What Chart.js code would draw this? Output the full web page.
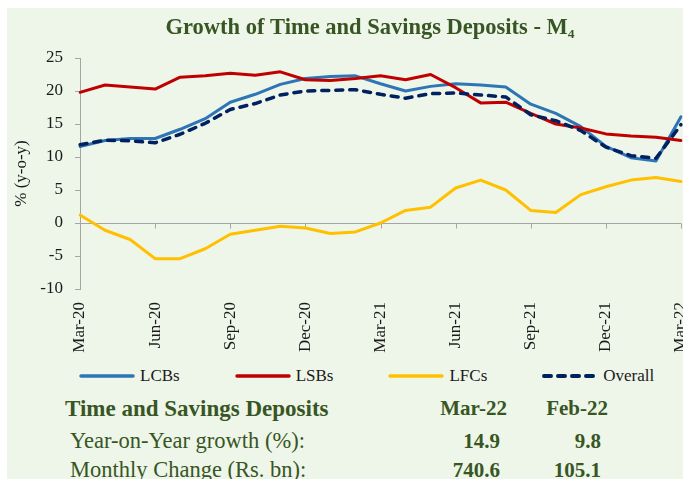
<!DOCTYPE html>
<html>
<head>
<meta charset="utf-8">
<script src="https://cdn.jsdelivr.net/npm/chart.js@4.4.1/dist/chart.umd.min.js"></script>
<style>
    html, body { margin: 0; padding: 0; background: #fff; }
    body { width: 683px; height: 479px; overflow: hidden; position: relative; font-family: 'Liberation Serif', serif; }
    #panel { position: absolute; left: 7px; top: 8px; width: 676px; height: 471px; background: #EEF5E9; overflow: hidden; }
    #chart-wrap { position: absolute; left: 0; top: 0; width: 726px; height: 356px; }
    #legend { position: absolute; left: 72px; top: 357px; height: 22px; display: flex; align-items: center; gap: 55px;
              font-size: 17px; color: #1a1a1a; }
    #legend .item { display: flex; align-items: center; }
    #legend svg { margin-right: 5px; }
    .t { position: absolute; white-space: nowrap; color: #375623; line-height: 1; }
    .b { font-weight: bold; }
    .r { text-align: right; }
</style>
</head>
<body>
<div id="panel">
    <div id="chart-wrap"><canvas id="depositsChart" width="726" height="356"></canvas></div>
    <div id="legend"></div>
    <div id="summary"></div>
</div>
<script>
const months = ['Mar-20', 'Apr-20', 'May-20', 'Jun-20', 'Jul-20', 'Aug-20', 'Sep-20', 'Oct-20', 'Nov-20',
    'Dec-20', 'Jan-21', 'Feb-21', 'Mar-21', 'Apr-21', 'May-21', 'Jun-21', 'Jul-21', 'Aug-21', 'Sep-21',
    'Oct-21', 'Nov-21', 'Dec-21', 'Jan-22', 'Feb-22', 'Mar-22'];

const lcbs = [11.6, 12.5, 12.8, 12.8, 14.2, 15.8, 18.3, 19.5, 21.0, 21.9, 22.2, 22.3, 21.1,
    20.0, 20.7, 21.1, 20.9, 20.6, 18.0, 16.6, 14.6, 11.6, 9.9, 9.4, 16.1];
const lsbs = [19.8, 20.9, 20.6, 20.3, 22.1, 22.3, 22.7, 22.4, 22.9, 21.7, 21.6, 21.9, 22.3,
    21.7, 22.5, 20.5, 18.2, 18.3, 16.6, 15.0, 14.4, 13.5, 13.2, 13.0, 12.5];
const lfcs = [1.2, -1.1, -2.5, -5.4, -5.4, -3.9, -1.7, -1.1, -0.5, -0.75, -1.6, -1.35, 0.0,
    1.9, 2.4, 5.3, 6.5, 5.0, 1.9, 1.6, 4.3, 5.5, 6.5, 6.9, 6.3];
const overall = [11.85, 12.55, 12.45, 12.15, 13.45, 15.1, 17.2, 18.1, 19.4, 20.0, 20.1, 20.2, 19.5,
    18.9, 19.6, 19.7, 19.4, 19.1, 16.4, 15.5, 14.0, 11.5, 10.2, 9.8, 14.9];

const yMin = -10, yMax = 25, yStep = 5;

const summaryTitle = 'Time and Savings Deposits';
const summaryCols = ['Mar-22', 'Feb-22'];
const yoyGrowth = ['14.9', '9.8'];
const monthlyChange = ['740.6', '105.1'];

const AXIS_GREY = '#A5A5A5';
const SERIF = "'Liberation Serif', 'DejaVu Serif', serif";

// small tick marks hanging below the zero line, every quarter
const zeroTicks = {
    id: 'zeroTicks',
    beforeDatasetsDraw(chart) {
        const { ctx, scales: { x, y } } = chart;
        const y0 = Math.round(y.getPixelForValue(0)) + 0.5;
        ctx.save();
        ctx.strokeStyle = AXIS_GREY;
        ctx.lineWidth = 1;
        months.forEach((m, i) => {
            if (i % 3 !== 0) return;
            const px = Math.round(x.getPixelForValue(i)) + 0.5;
            ctx.beginPath();
            ctx.moveTo(px, y0);
            ctx.lineTo(px, y0 + 5);
            ctx.stroke();
        });
        ctx.restore();
    }
};

// html legend built from the chart's own legend items
const htmlLegend = {
    id: 'htmlLegend',
    afterUpdate(chart) {
        const box = document.getElementById('legend');
        box.innerHTML = '';
        const items = chart.options.plugins.legend.labels.generateLabels(chart)
            .sort((a, b) => a.datasetIndex - b.datasetIndex);
        items.forEach(item => {
            const el = document.createElement('div');
            el.className = 'item';
            const dash = item.lineDash && item.lineDash.length ? item.lineDash.join(' ') : 'none';
            el.innerHTML = `<svg width="56" height="8"><line x1="2" y1="4" x2="54" y2="4" stroke="${item.strokeStyle}"
                stroke-width="${item.lineWidth + 0.5}" stroke-linecap="round" stroke-dasharray="${dash}"/></svg>`;
            const txt = document.createElement('span');
            txt.textContent = item.text;
            el.appendChild(txt);
            box.appendChild(el);
        });
    }
};

function series(label, data, color, order, extra = {}) {
    return {
        label, data, order,
        borderColor: color, backgroundColor: color,
        borderWidth: 3, pointRadius: 0, tension: 0,
        borderCapStyle: 'round', borderJoinStyle: 'round',
        ...extra
    };
}

new Chart(document.getElementById('depositsChart'), {
    type: 'line',
    data: {
        labels: months,
        datasets: [
            series('LCBs', lcbs, '#2E75B6', 3),
            series('LSBs', lsbs, '#C00000', 2),
            series('LFCs', lfcs, '#FFC000', 1),
            series('Overall', overall, '#002060', 0, { borderWidth: 3.5, borderDash: [7, 7] })
        ]
    },
    options: {
        responsive: false, animation: false, devicePixelRatio: 1,
        plugins: {
            tooltip: { enabled: false },
            legend: { display: false },
            title: {
                display: true,
                text: 'Growth of Time and Savings Deposits - M\u2084',
                color: '#375623',
                font: { family: SERIF, size: 22.5, weight: 'bold' },
                padding: { top: 7, bottom: 16 }
            }
        },
        scales: {
            x: {
                grid: { display: false, drawTicks: false },
                border: { display: false },
                // plot ends at the page edge, the original chart runs on past it
                afterFit: (scale) => { scale.height = 75; scale.paddingRight = 52; },
                ticks: {
                    autoSkip: false, minRotation: 90, maxRotation: 90, padding: 13,
                    color: '#1a1a1a', font: { family: SERIF, size: 17 },
                    callback: (v, i) => (i % 3 === 0 ? months[i] : '')
                }
            },
            y: {
                min: yMin, max: yMax,
                afterFit: (scale) => { scale.width = 73; },
                grid: {
                    color: (c) => (c.tick && c.tick.value === 0 ? AXIS_GREY : 'rgba(0,0,0,0)'),
                    tickColor: AXIS_GREY, tickLength: 5, lineWidth: 1
                },
                border: { display: true, color: AXIS_GREY, width: 1 },
                ticks: { stepSize: yStep, autoSkip: false, padding: 12, color: '#1a1a1a', font: { family: SERIF, size: 17 } },
                title: {
                    display: true, text: '% (y-o-y)', color: '#1a1a1a',
                    font: { family: SERIF, size: 17 }, padding: { top: 4, bottom: 4 }
                }
            }
        }
    },
    plugins: [zeroTicks, htmlLegend]
});

// summary block under the chart
const summary = document.getElementById('summary');
function addText(txt, cls, left, top, size, width) {
    const el = document.createElement('div');
    el.className = 't ' + cls;
    el.textContent = txt;
    el.style.left = left + 'px';
    el.style.top = top + 'px';
    el.style.fontSize = size + 'px';
    if (width) el.style.width = width + 'px';
    summary.appendChild(el);
}
addText(summaryTitle, 'b', 58, 389, 23);
addText(summaryCols[0], 'b r', 400, 390, 21, 100);
addText(summaryCols[1], 'b r', 501, 390, 21, 100);
addText('Year-on-Year growth (%):', '', 63, 422, 22.5);
addText(yoyGrowth[0], 'b r', 393, 423, 21, 100);
addText(yoyGrowth[1], 'b r', 494, 423, 21, 100);
addText('Monthly Change (Rs. bn):', '', 63, 451, 22.5);
addText(monthlyChange[0], 'b r', 393, 452, 21, 100);
addText(monthlyChange[1], 'b r', 494, 452, 21, 100);
</script>
</body>
</html>
